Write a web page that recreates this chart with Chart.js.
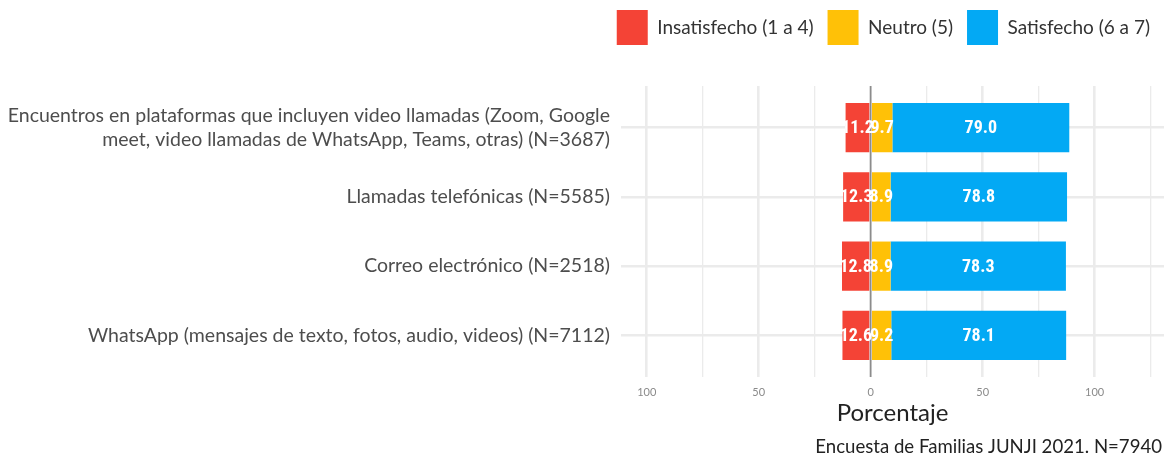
<!DOCTYPE html>
<html>
<head>
<meta charset="utf-8">
<script src="https://cdn.jsdelivr.net/npm/chart.js@4/dist/chart.umd.min.js"></script>
<style>
  html, body { margin: 0; padding: 0; background: #fff; }
  #wrap { width: 1164px; height: 457px; }
</style>
</head>
<body>
<div id="wrap"><canvas id="myChart"></canvas></div>
<script>
// canales de comunicacion, de arriba hacia abajo
const categories = [
  ['Encuentros en plataformas que incluyen video llamadas (Zoom, Google', 'meet, video llamadas de WhatsApp, Teams, otras) (N=3687)'],
  'Llamadas telefónicas (N=5585)',
  'Correo electrónico (N=2518)',
  'WhatsApp (mensajes de texto, fotos, audio, videos) (N=7112)'
]
// insatisfecho va hacia la izquierda (negativo)
const insatisfecho = [-11.2, -12.3, -12.8, -12.6]
const neutro = [9.7, 8.9, 8.9, 9.2]
const satisfecho = [79.0, 78.8, 78.3, 78.1]
const xTicks = [-100, -75, -50, -25, 0, 25, 50, 75, 100, 125]
const caption = 'Encuesta de Familias JUNJI 2021. N=7940'

const toPoints = arr => arr.map((v, i) => ({ x: v, y: i }))

// etiquetas blancas dentro de cada segmento + linea del cero
const barLabels = {
  id: 'barLabels',
  afterDatasetsDraw(chart) {
    const ctx = chart.ctx
    const x0 = chart.scales.x.getPixelForValue(0)
    ctx.save()
    ctx.strokeStyle = '#8c8c8c'
    ctx.lineWidth = 1.6
    ctx.beginPath()
    ctx.moveTo(x0, chart.chartArea.top)
    ctx.lineTo(x0, chart.chartArea.bottom)
    ctx.stroke()

    ctx.fillStyle = '#ffffff'
    ctx.font = 'bold 18px "Liberation Sans Narrow", "Roboto Condensed", Roboto, sans-serif'
    ctx.textAlign = 'center'
    ctx.textBaseline = 'middle'
    chart.data.datasets.forEach((ds, d) => {
      chart.getDatasetMeta(d).data.forEach((bar, i) => {
        const val = Math.abs(ds.data[i].x).toFixed(1)
        ctx.fillText(val, (bar.x + bar.base) / 2, bar.y + 1)
      })
    })
    ctx.restore()
  }
}

// fuente al pie, abajo a la derecha
const captionText = {
  id: 'captionText',
  afterDraw(chart) {
    const ctx = chart.ctx
    ctx.save()
    ctx.fillStyle = '#222'
    ctx.font = '18.6px Lato, sans-serif'
    ctx.textAlign = 'right'
    ctx.textBaseline = 'middle'
    ctx.fillText(caption, chart.width - 2, 447)
    ctx.restore()
  }
}

// alto fijo para la leyenda de arriba
const legendHeight = {
  id: 'legendHeight',
  beforeLayout(chart) {
    const legend = chart.legend
    if (legend && !legend._fixed) {
      const fit = legend.fit
      legend.fit = function () {
        fit.call(this)
        this.height = 90
      }
      legend._fixed = true
    }
  }
}

const ctx = document.getElementById('myChart')

const myChart = new Chart(ctx, {
  type: 'bar',
  data: {
    datasets: [
      { label: 'Insatisfecho (1 a 4)', data: toPoints(insatisfecho), backgroundColor: '#F44336' },
      { label: 'Neutro (5)', data: toPoints(neutro), backgroundColor: '#FFC107' },
      { label: 'Satisfecho (6 a 7)', data: toPoints(satisfecho), backgroundColor: '#03A9F4' }
    ]
  },
  options: {
    indexAxis: 'y',
    responsive: true,
    maintainAspectRatio: false,
    animation: false,
    layout: { padding: { top: -4, left: 0, right: 0, bottom: 0 } },
    datasets: {
      bar: { barPercentage: 0.71, categoryPercentage: 1, borderWidth: 0 }
    },
    plugins: {
      legend: {
        position: 'top',
        align: 'end',
        labels: {
          boxWidth: 31,
          boxHeight: 35,
          padding: 14,
          color: '#333',
          font: { family: 'Lato', size: 19 }
        }
      },
      tooltip: { enabled: false }
    },
    scales: {
      x: {
        type: 'linear',
        stacked: true,
        min: -111.5,
        max: 131,
        afterBuildTicks: scale => { scale.ticks = xTicks.map(v => ({ value: v })) },
        afterFit: scale => { scale.height = 80 },
        border: { display: false },
        grid: {
          drawTicks: false,
          color: '#ebebeb',
          lineWidth: c => (c.tick && c.tick.value % 50 === 0 ? 2.6 : 1.3)
        },
        ticks: {
          padding: 9,
          color: '#8a8a8a',
          font: { family: 'Lato', size: 11 },
          callback: v => (v % 50 === 0 ? Math.abs(v) : '')
        },
        title: {
          display: true,
          text: 'Porcentaje',
          color: '#222',
          font: { family: 'Lato', size: 24 },
          padding: { top: 0, bottom: 29 }
        }
      },
      y: {
        type: 'linear',
        stacked: true,
        reverse: true,
        offset: false,
        min: -0.6,
        max: 3.6,
        afterBuildTicks: scale => { scale.ticks = categories.map((c, i) => ({ value: i })) },
        afterFit: scale => { scale.width = 621 },
        border: { display: false },
        grid: { drawTicks: false, offset: false, color: '#ebebeb', lineWidth: 2.6 },
        ticks: {
          padding: 11,
          color: '#4d4d4d',
          font: { family: 'Lato', size: 19.5, lineHeight: 1.22 },
          callback: v => categories[v]
        }
      }
    }
  },
  plugins: [legendHeight, barLabels, captionText]
})
</script>
</body>
</html>
